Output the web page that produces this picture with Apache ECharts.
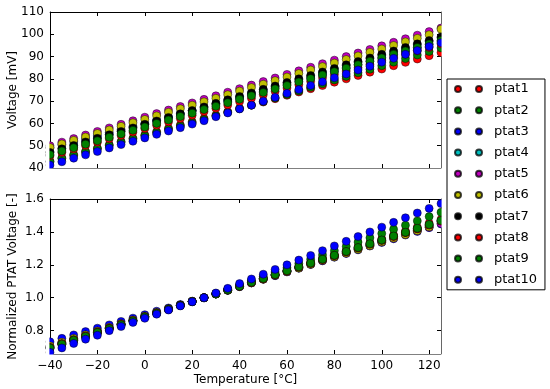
<!DOCTYPE html>
<html><head><meta charset="utf-8">
<script src="https://cdn.jsdelivr.net/npm/echarts@6/dist/echarts.min.js"></script>
<style>html,body{margin:0;padding:0;background:#fff}#c{width:550px;height:389px}</style>
</head><body><div id="c"></div>
<script>
const temps = [-40,-35,-30,-25,-20,-15,-10,-5,0,5,10,15,20,25,30,35,40,45,50,55,60,65,70,75,80,85,90,95,100,105,110,115,120,125];
const names = ['ptat1','ptat2','ptat3','ptat4','ptat5','ptat6','ptat7','ptat8','ptat9','ptat10'];
const colors = ['#ff0000','#008000','#0000ff','#00bfbf','#bf00bf','#bfbf00','#000000','#ff0000','#008000','#0000ff'];
const xTicks = [-40,-20,0,20,40,60,80,100,120];
const normTicks = [0.8,1.0,1.2,1.4,1.6];

// Voltage [mV]
const ptat1V = [43.0,44.5,46.0,47.4,48.9,50.4,51.9,53.4,54.8,56.3,57.8,59.3,60.8,62.2,63.7,65.2,66.7,68.2,69.6,71.1,72.6,74.1,75.6,77.0,78.5,80.0,81.5,83.0,84.4,85.9,87.4,88.9,90.4,91.8];
const ptat2V = [42.8,44.3,45.7,47.2,48.6,50.1,51.6,53.0,54.5,55.9,57.4,58.9,60.3,61.8,63.4,65.0,66.6,68.2,69.8,71.4,73.0,74.6,76.2,77.8,79.5,81.1,82.7,84.3,85.9,87.5,89.1,90.7,92.3,93.9];
const ptat3V = [49.0,50.4,51.8,53.1,54.5,55.9,57.3,58.7,60.0,61.4,62.8,64.2,65.6,66.9,68.4,69.9,71.4,72.9,74.4,75.9,77.4,78.9,80.4,81.9,83.4,84.9,86.4,87.9,89.4,90.9,92.4,93.9,95.4,96.9];
const ptat4V = [47.2,48.8,50.3,51.9,53.4,55.0,56.5,58.1,59.6,61.2,62.7,64.3,65.8,67.4,68.9,70.5,72.0,73.6,75.1,76.7,78.2,79.8,81.3,82.9,84.4,86.0,87.5,89.1,90.6,92.2,93.7,95.3,96.8,98.4];
const ptat5V = [50.0,51.6,53.2,54.8,56.4,58.0,59.6,61.2,62.8,64.4,66.0,67.6,69.2,70.8,72.4,74.0,75.6,77.2,78.8,80.4,82.0,83.6,85.2,86.8,88.4,90.0,91.6,93.2,94.8,96.4,98.0,99.6,101.2,102.8];
const ptat6V = [49.2,50.8,52.4,53.9,55.5,57.1,58.7,60.3,61.8,63.4,65.0,66.6,68.2,69.7,71.3,72.9,74.5,76.1,77.6,79.2,80.8,82.4,84.0,85.5,87.1,88.7,90.3,91.9,93.4,95.0,96.6,98.2,99.8,102.3];
const ptat7V = [47.0,48.6,50.1,51.7,53.3,54.9,56.4,58.0,59.6,61.1,62.7,64.3,65.8,67.4,69.0,70.6,72.1,73.7,75.3,76.8,78.4,80.0,81.5,83.1,84.7,86.3,87.8,89.4,91.0,92.5,94.1,95.7,97.2,98.8];
const ptat8V = [45.5,47.0,48.5,50.1,51.6,53.1,54.6,56.1,57.7,59.2,60.7,62.2,63.7,65.3,66.8,68.3,69.8,71.3,72.9,74.4,75.9,77.4,78.9,80.5,82.0,83.5,85.0,86.5,88.1,89.6,91.1,92.6,94.1,95.7];
const ptat9V = [46.0,47.6,49.1,50.7,52.2,53.8,55.3,56.9,58.4,60.0,61.5,63.1,64.6,66.2,67.7,69.3,70.8,72.4,73.9,75.5,77.0,78.6,80.1,81.7,83.2,84.8,86.3,87.9,89.4,91.0,92.5,94.1,95.6,97.2];
const ptat10V = [41.3,42.8,44.4,45.9,47.4,49.0,50.5,52.0,53.5,55.1,56.6,58.1,59.7,61.2,63.0,64.7,66.5,68.2,70.0,71.7,73.5,75.2,77.0,78.7,80.5,82.2,84.0,85.7,87.5,89.2,91.0,92.7,94.5,96.2];

// Normalized PTAT Voltage [-]
const ptat1N = [0.691,0.715,0.739,0.763,0.787,0.810,0.834,0.858,0.882,0.905,0.929,0.953,0.977,1.000,1.024,1.048,1.072,1.096,1.119,1.143,1.167,1.191,1.215,1.238,1.262,1.286,1.310,1.334,1.357,1.381,1.405,1.429,1.453,1.476];
const ptat2N = [0.693,0.716,0.740,0.764,0.787,0.811,0.835,0.858,0.882,0.905,0.929,0.953,0.976,1.000,1.026,1.052,1.078,1.104,1.130,1.156,1.182,1.208,1.234,1.260,1.286,1.312,1.338,1.364,1.390,1.416,1.441,1.467,1.493,1.519];
const ptat3N = [0.732,0.753,0.774,0.794,0.815,0.835,0.856,0.876,0.897,0.918,0.938,0.959,0.979,1.000,1.022,1.045,1.067,1.090,1.112,1.134,1.157,1.179,1.202,1.224,1.246,1.269,1.291,1.314,1.336,1.358,1.381,1.403,1.426,1.448];
const ptat4N = [0.700,0.723,0.746,0.770,0.793,0.816,0.839,0.862,0.885,0.908,0.931,0.954,0.977,1.000,1.023,1.046,1.069,1.092,1.115,1.138,1.161,1.184,1.207,1.230,1.253,1.276,1.299,1.322,1.345,1.368,1.391,1.414,1.437,1.460];
const ptat5N = [0.706,0.729,0.751,0.774,0.797,0.819,0.842,0.864,0.887,0.910,0.932,0.955,0.977,1.000,1.023,1.045,1.068,1.090,1.113,1.136,1.158,1.181,1.203,1.226,1.249,1.271,1.294,1.316,1.339,1.362,1.384,1.407,1.429,1.452];
const ptat6N = [0.706,0.729,0.752,0.774,0.797,0.819,0.842,0.865,0.887,0.910,0.933,0.955,0.978,1.000,1.023,1.046,1.068,1.091,1.113,1.136,1.159,1.181,1.204,1.227,1.249,1.272,1.295,1.317,1.340,1.363,1.385,1.408,1.431,1.468];
const ptat7N = [0.697,0.721,0.744,0.767,0.791,0.814,0.837,0.860,0.884,0.907,0.930,0.954,0.977,1.000,1.023,1.047,1.070,1.093,1.116,1.140,1.163,1.186,1.210,1.233,1.256,1.280,1.303,1.326,1.349,1.373,1.396,1.419,1.442,1.466];
const ptat8N = [0.697,0.720,0.743,0.767,0.790,0.813,0.837,0.860,0.883,0.907,0.930,0.953,0.977,1.000,1.023,1.047,1.070,1.093,1.116,1.140,1.163,1.186,1.209,1.233,1.256,1.279,1.303,1.326,1.349,1.372,1.396,1.419,1.442,1.466];
const ptat9N = [0.695,0.718,0.742,0.765,0.789,0.812,0.836,0.859,0.883,0.906,0.930,0.953,0.977,1.000,1.023,1.047,1.070,1.094,1.117,1.141,1.164,1.188,1.211,1.234,1.258,1.281,1.305,1.328,1.351,1.375,1.398,1.422,1.445,1.469];
const ptat10N = [0.668,0.695,0.722,0.748,0.772,0.800,0.825,0.850,0.875,0.900,0.925,0.950,0.975,1.000,1.029,1.057,1.086,1.114,1.143,1.172,1.200,1.229,1.257,1.286,1.315,1.343,1.372,1.400,1.429,1.458,1.486,1.515,1.543,1.572];

const voltSets = [ptat1V,ptat2V,ptat3V,ptat4V,ptat5V,ptat6V,ptat7V,ptat8V,ptat9V,ptat10V];
const normSets = [ptat1N,ptat2N,ptat3N,ptat4N,ptat5N,ptat6N,ptat7N,ptat8N,ptat9N,ptat10N];

const FONT = 'DejaVu Sans';
const minus = v => String(v).replace('-', '\u2212');

function xAx(grid, bottom, showLabels) {
  return {
    type: 'value', gridIndex: grid, position: bottom ? 'bottom' : 'top',
    min: -40, max: 125,
    splitLine: {show: false},
    axisLine: {show: true, onZero: false, lineStyle: {color: '#000', width: 1}},
    axisTick: {show: true, inside: true, length: 4, lineStyle: {color: '#000'}, customValues: xTicks},
    axisLabel: {show: showLabels, customValues: xTicks, formatter: minus, color: '#000', fontFamily: FONT, fontSize: 12, margin: 6},
    name: showLabels ? 'Temperature [°C]' : '', nameLocation: 'middle', nameGap: 20, nameMoveOverlap: false,
    nameTextStyle: {color: '#000', fontFamily: FONT, fontSize: 12}
  };
}
function yAx(grid, left, cfg) {
  const ax = {
    type: 'value', gridIndex: grid, position: left ? 'left' : 'right',
    min: cfg.min, max: cfg.max,
    splitLine: {show: false},
    axisLine: {show: true, onZero: false, lineStyle: {color: '#000', width: 1}},
    axisTick: {show: true, inside: true, length: 4, lineStyle: {color: '#000'}},
    axisLabel: {show: left, color: '#000', fontFamily: FONT, fontSize: 12, margin: 6},
    name: left ? cfg.name : '', nameLocation: 'middle', nameGap: cfg.gap, nameRotate: 90, nameMoveOverlap: false,
    nameTextStyle: {color: '#000', fontFamily: FONT, fontSize: 12}
  };
  if (cfg.interval) ax.interval = cfg.interval;
  if (cfg.ticks) {
    ax.axisTick.customValues = cfg.ticks;
    ax.axisLabel.customValues = cfg.ticks;
    ax.axisLabel.formatter = v => v.toFixed(1);
  }
  return ax;
}

const topCfg = {min: 40, max: 110, interval: 10, name: 'Voltage [mV]', gap: 31};
const botCfg = {min: 0.658, max: 1.6, ticks: normTicks, name: 'Normalized PTAT Voltage [-]', gap: 31};

const series = [];
names.forEach((n, k) => {
  series.push({
    name: n, type: 'scatter', xAxisIndex: 0, yAxisIndex: 0, symbol: 'circle', symbolSize: 8,
    itemStyle: {color: colors[k], borderColor: 'rgba(0,0,0,0.75)', borderWidth: 0.6, opacity: 1},
    data: temps.map((t, i) => [t, voltSets[k][i]]), clip: true, z: 2 + k, animation: false
  });
});
names.forEach((n, k) => {
  series.push({
    name: n, type: 'scatter', xAxisIndex: 2, yAxisIndex: 2, symbol: 'circle', symbolSize: 8,
    itemStyle: {color: colors[k], borderColor: 'rgba(0,0,0,0.75)', borderWidth: 0.6, opacity: 1},
    data: temps.map((t, i) => [t, normSets[k][i]]), clip: true, z: 2 + k, animation: false
  });
});

// white masks so markers are cut at the plot frame, as in the reference
const mask = (x, y, w, h) => ({type: 'rect', shape: {x: x, y: y, width: w, height: h}, style: {fill: '#fff'}, z: 100, silent: true});

const chart = echarts.init(document.getElementById('c'), null, {renderer: 'canvas'});
chart.setOption({
  animation: false,
  backgroundColor: '#fff',
  textStyle: {fontFamily: FONT},
  grid: [
    {left: 50, right: 109, top: 12, height: 156, outerBoundsMode: 'none'},
    {left: 50, right: 109, top: 199, height: 155, outerBoundsMode: 'none'}
  ],
  xAxis: [xAx(0, true, false), xAx(0, false, false), xAx(1, true, true), xAx(1, false, false)],
  yAxis: [yAx(0, true, topCfg), yAx(0, false, topCfg), yAx(1, true, botCfg), yAx(1, false, botCfg)],
  graphic: [
    mask(45.8, 6, 3.6, 168),
    mask(45.8, 168.6, 401, 4.5),
    mask(441.6, 6, 5, 168),
    mask(45.8, 193, 3.6, 166),
    mask(45.8, 354.6, 401, 4),
    mask(441.6, 193, 5, 166)
  ],
  legend: {
    data: names, orient: 'vertical', left: 447, top: 79, z: 120,
    backgroundColor: '#fff', borderColor: '#000', borderWidth: 1, borderRadius: 0,
    padding: [3, 8, 3, 7], itemGap: 7.2, itemWidth: 27, itemHeight: 6,
    icon: 'path://M0,3a3,3 0 1,0 6,0a3,3 0 1,0 -6,0ZM21,3a3,3 0 1,0 6,0a3,3 0 1,0 -6,0Z',
    textStyle: {color: '#000', fontFamily: FONT, fontSize: 13, lineHeight: 14, padding: [0, 0, 0, 7]},
    selectedMode: false
  },
  series: series
});
</script></body></html>
